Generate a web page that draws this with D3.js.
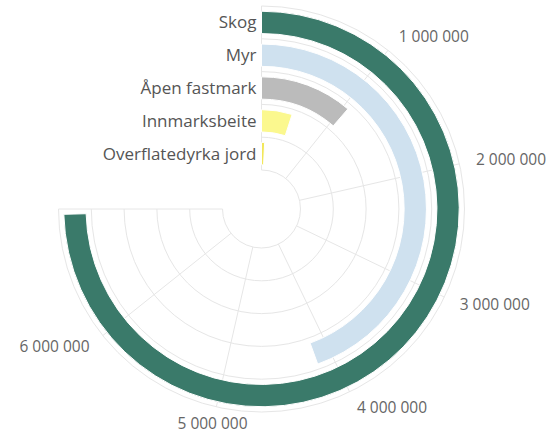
<!DOCTYPE html>
<html>
<head>
<meta charset="utf-8">
<script src="https://cdn.jsdelivr.net/npm/d3@7"></script>
<style>
  html, body { margin: 0; padding: 0; background: #fff; }
  svg { display: block; font-family: "Open Sans", "DejaVu Sans", sans-serif; }
</style>
</head>
<body>
<svg id="chart" width="551" height="437"></svg>
<script>
// Data
const categories = ["Skog", "Myr", "Åpen fastmark", "Innmarksbeite", "Overflatedyrka jord"];
const values = [6960000, 4150000, 1058000, 465000, 70000];
const colors = ["#3a7a6a", "#cfe1ef", "#bbbbbb", "#fbf88e", "#f2e75a"];
const tickValues = [0, 1000000, 2000000, 3000000, 4000000, 5000000, 6000000, 7000000];
const tickLabels = [1000000, 2000000, 3000000, 4000000, 5000000, 6000000];

const svg = d3.select("#chart");
const cx = 261.5, cy = 209;
const innerR = 39, outerR = 203;
const maxVal = 7000000;
const endAngle = 1.5 * Math.PI;

const g = svg.append("g").attr("transform", `translate(${cx},${cy})`);

const angle = d3.scaleLinear().domain([0, maxVal]).range([0, endAngle]);
const radius = d3.scaleBand().domain(categories.slice().reverse()).range([innerR, outerR]);
const bw = radius.bandwidth();

// Grid circles (arcs over 270°)
const boundaries = d3.range(categories.length + 1).map(i => innerR + i * bw);
boundaries.forEach(r => {
  const p = d3.path();
  p.arc(0, 0, r, -Math.PI / 2, -Math.PI / 2 + endAngle);
  g.append("path").attr("d", p.toString())
    .attr("fill", "none").attr("stroke", "#e6e6e6").attr("stroke-width", 1);
});

// Spokes
tickValues.forEach(v => {
  const a = angle(v);
  g.append("line")
    .attr("x1", innerR * Math.sin(a)).attr("y1", -innerR * Math.cos(a))
    .attr("x2", outerR * Math.sin(a)).attr("y2", -outerR * Math.cos(a))
    .attr("stroke", "#e6e6e6").attr("stroke-width", 1);
});

// Bars
const arc = d3.arc();
categories.forEach((c, i) => {
  const r0 = radius(c);
  g.append("path")
    .attr("d", arc({
      innerRadius: r0 + bw * 0.16,
      outerRadius: r0 + bw * 0.84,
      startAngle: 0,
      endAngle: angle(values[i])
    }))
    .attr("fill", colors[i])
    .attr("stroke", "#ffffff")
    .attr("stroke-width", 1);
});

// Category labels
categories.forEach(c => {
  const r = radius(c) + bw / 2;
  g.append("text")
    .attr("x", -5).attr("y", -r)
    .attr("dy", "0.35em")
    .attr("text-anchor", "end")
    .attr("font-size", "17px")
    .attr("fill", "#555555")
    .text(c);
});

// Tick labels
const fmt = v => d3.format(",")(v).replace(/,/g, " ");
const labelR = 220;
tickLabels.forEach(v => {
  const a = angle(v);
  const deg = a * 180 / Math.PI;
  let anchor = "middle";
  if (deg > 20 && deg < 160) anchor = "start";
  else if (deg > 200 && deg < 340) anchor = "end";
  g.append("text")
    .attr("x", labelR * Math.sin(a))
    .attr("y", -labelR * Math.cos(a))
    .attr("dy", "0.35em")
    .attr("text-anchor", anchor)
    .attr("font-size", "15.5px")
    .attr("fill", "#666666")
    .text(fmt(v));
});
</script>
</body>
</html>
